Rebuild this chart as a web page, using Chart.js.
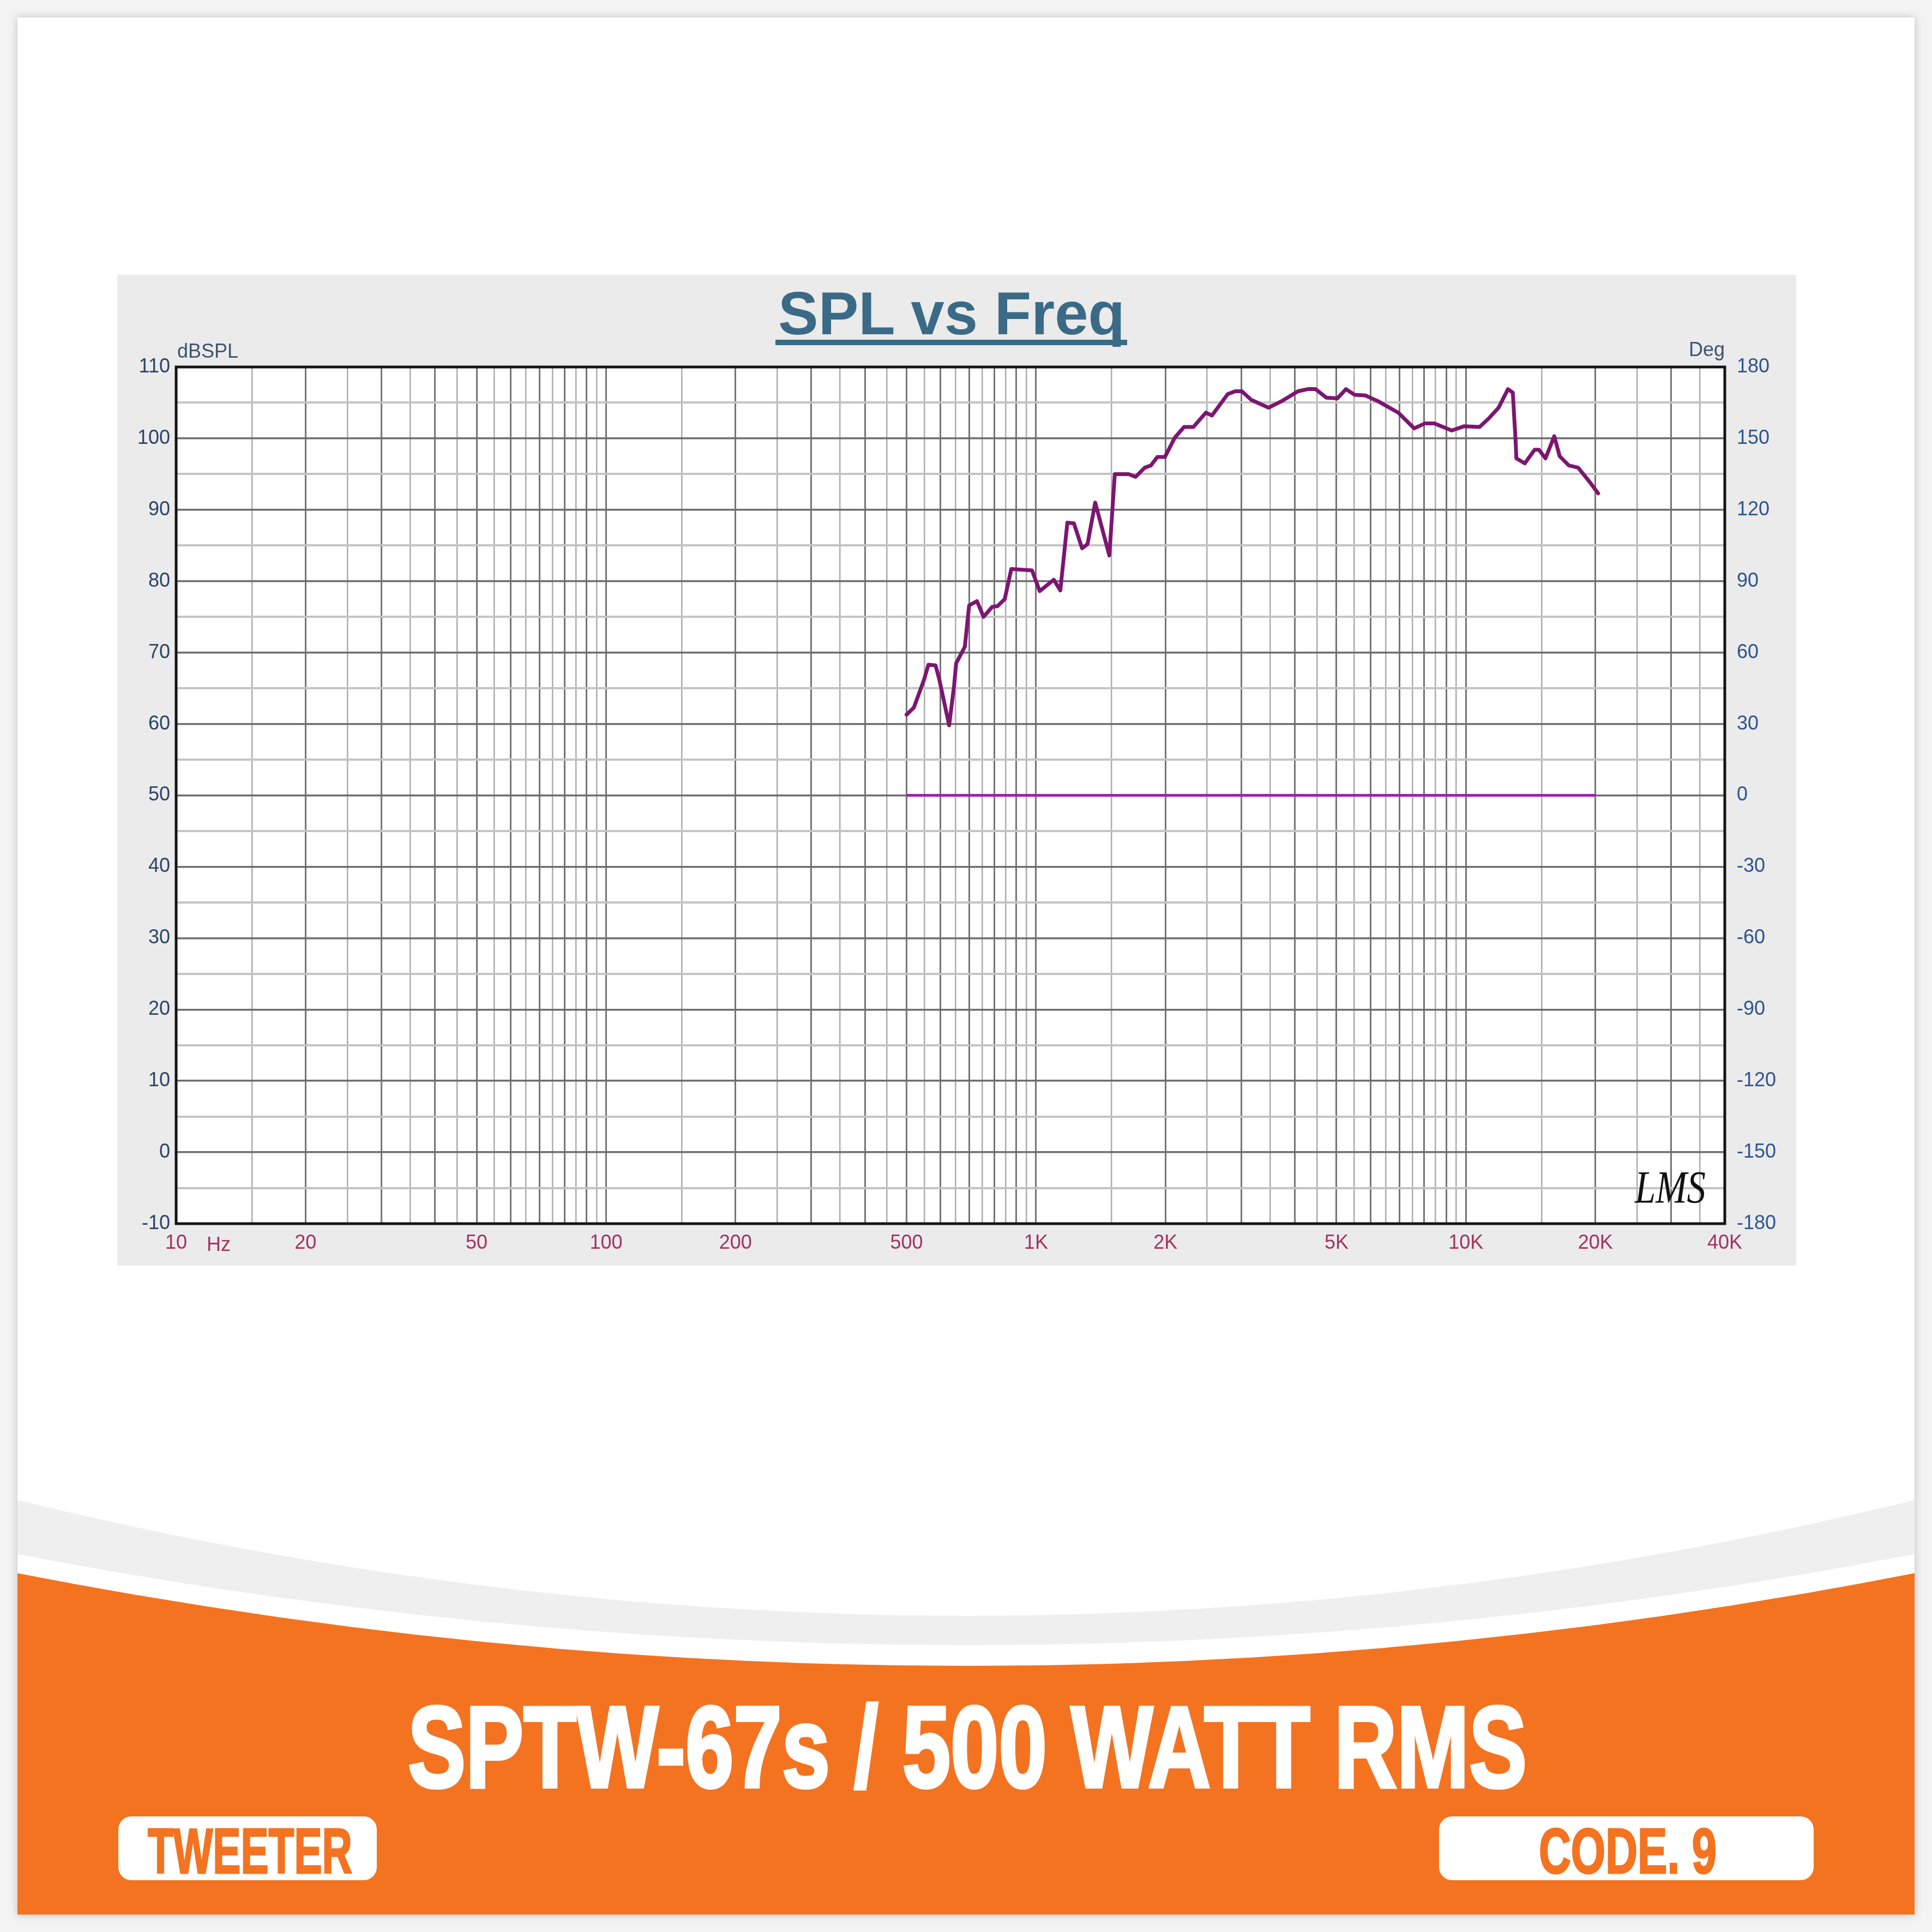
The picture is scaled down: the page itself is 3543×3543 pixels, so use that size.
<!DOCTYPE html>
<html><head><meta charset="utf-8">
<script src="https://cdn.jsdelivr.net/npm/chart.js@4.4.1/dist/chart.umd.min.js"></script>
<style>
html,body{margin:0;padding:0;width:3543px;height:3543px;background:#f3f3f3;overflow:hidden;}
#card{position:absolute;left:32px;top:32px;width:3479px;height:3479px;background:#fff;box-shadow:0 0 14px rgba(0,0,0,0.22);}
#shapes{position:absolute;left:0;top:0;width:3543px;height:3543px;}
#panel{position:absolute;left:215px;top:504px;width:3079px;height:1817px;background:#ebebeb;}
#panel canvas{display:block;}
#overlay{position:absolute;left:0;top:0;width:3543px;height:3543px;pointer-events:none;}
</style></head>
<body>
<div id="card"></div>
<svg id="shapes" width="3543" height="3543" viewBox="0 0 3543 3543">
  <path d="M32,2751 Q1772,3175 3511,2751 L3511,3511 L32,3511 Z" fill="#efefef"/>
  <path d="M32,2850 Q1772,3184 3511,2850 L3511,3511 L32,3511 Z" fill="#ffffff"/>
  <path d="M32,2885 Q1772,3225 3511,2885 L3511,3511 L32,3511 Z" fill="#f37321"/>
  <rect x="217" y="3331" width="474" height="117" rx="24" fill="#ffffff"/>
  <rect x="2639" y="3331" width="687" height="117" rx="24" fill="#ffffff"/>
</svg>
<div id="panel"><canvas id="c" width="3079" height="1817"></canvas></div>
<svg id="overlay" width="3543" height="3543" viewBox="0 0 3543 3543" font-family="'Liberation Sans', Arial, sans-serif">
  <text x="1427" y="613" font-size="112" font-weight="bold" fill="#3b6a86" textLength="636" lengthAdjust="spacingAndGlyphs">SPL vs Freq</text>
  <rect x="1422" y="623" width="645" height="10" fill="#3b6a86"/>
  <text x="325" y="656" font-size="36" fill="#3d5570">dBSPL</text>
  <text x="3163" y="653" font-size="36" fill="#3d5570" text-anchor="end">Deg</text>
  <text x="379" y="2294" font-size="36" fill="#a3335d">Hz</text>
  <text x="2998" y="2206" font-size="84" font-style="italic" font-family="'Liberation Serif', serif" fill="#111" textLength="130" lengthAdjust="spacingAndGlyphs">LMS</text>
  <text x="748" y="3277" font-size="212" font-weight="bold" fill="#ffffff" stroke="#ffffff" stroke-width="6" textLength="2052" lengthAdjust="spacingAndGlyphs">SPTW-67s / 500 WATT RMS</text>
  <text x="271" y="3435" font-size="117" font-weight="bold" fill="#f37321" stroke="#f37321" stroke-width="3" textLength="375" lengthAdjust="spacingAndGlyphs">TWEETER</text>
  <text x="2822" y="3435" font-size="117" font-weight="bold" fill="#f37321" stroke="#f37321" stroke-width="3" textLength="326" lengthAdjust="spacingAndGlyphs">CODE. 9</text>
</svg>
<script>
// ---- data ----
const freqHz = [500, 520, 549, 562, 584, 596, 628, 645, 652, 683, 699, 729, 755, 791, 814, 846, 876, 979, 1020, 1100, 1139, 1183, 1225, 1280, 1318, 1373, 1481, 1525, 1641, 1704, 1791, 1850, 1916, 1995, 2103, 2210, 2323, 2484, 2566, 2792, 2908, 3012, 3166, 3475, 3749, 4069, 4288, 4467, 4735, 5021, 5260, 5512, 5843, 6249, 6961, 7577, 8032, 8443, 9268, 9910, 10755, 11303, 11912, 12523, 12853, 13043, 13100, 13707, 14444, 14786, 15313, 16049, 16520, 17362, 18241, 19337, 20300];
const splDb = [61.3, 62.3, 66.2, 68.3, 68.2, 66.2, 59.8, 65.4, 68.5, 70.8, 76.6, 77.2, 75.0, 76.4, 76.5, 77.5, 81.7, 81.5, 78.6, 80.2, 78.7, 88.2, 88.1, 84.6, 85.2, 91.0, 83.6, 95.0, 95.0, 94.6, 95.9, 96.2, 97.4, 97.4, 100.1, 101.6, 101.6, 103.6, 103.2, 106.2, 106.6, 106.6, 105.4, 104.3, 105.3, 106.6, 106.9, 106.9, 105.7, 105.6, 106.9, 106.1, 106.0, 105.2, 103.6, 101.4, 102.1, 102.1, 101.1, 101.7, 101.6, 102.8, 104.3, 106.9, 106.4, 99.8, 97.2, 96.5, 98.4, 98.4, 97.2, 100.3, 97.5, 96.2, 95.9, 94.0, 92.3];
const phaseFreqHz = [500, 20000];
const phaseDeg = [0, 0];
const xLabelValues = [10, 20, 50, 100, 200, 500, 1000, 2000, 5000, 10000, 20000, 40000];
const xLabelTexts = ['10', '20', '50', '100', '200', '500', '1K', '2K', '5K', '10K', '20K', '40K'];
const gridSteps = [1, 1.5, 2, 2.5, 3, 3.5, 4, 4.5, 5, 5.5, 6, 6.5, 7, 7.5, 8, 8.5, 9, 9.5];
const gridDecades = [10, 100, 1000, 10000];
const yDbTicks = [-10, -5, 0, 5, 10, 15, 20, 25, 30, 35, 40, 45, 50, 55, 60, 65, 70, 75, 80, 85, 90, 95, 100, 105, 110];
const yDegTicks = [-180, -150, -120, -90, -60, -30, 0, 30, 60, 90, 120, 150, 180];

// ---- build ----
const xGrid = [];
gridDecades.forEach(d => gridSteps.forEach(s => { const v = Math.round(d * s); if (v <= 40000) xGrid.push(v); }));
xGrid.push(40000);
const uniq = Array.from(new Set(xGrid)).sort((a,b)=>a-b);

function isMajorX(v){ const d = Math.pow(10, Math.floor(Math.log10(v) + 1e-9)); const m = v / d; return Math.abs(m - Math.round(m)) < 1e-6; }

const FONT = {family: "'Liberation Sans', Arial, sans-serif", size: 36};

const plotBg = {
  id: 'plotBg',
  beforeDraw(chart){ const {ctx, chartArea:a} = chart; ctx.save(); ctx.fillStyle = '#ffffff'; ctx.fillRect(a.left, a.top, a.right-a.left, a.bottom-a.top); ctx.restore(); },
  beforeDatasetsDraw(chart){ const {ctx, chartArea:a} = chart; ctx.save(); ctx.strokeStyle = '#141414'; ctx.lineWidth = 5; ctx.strokeRect(a.left, a.top, a.right-a.left, a.bottom-a.top); ctx.restore(); }
};

new Chart(document.getElementById('c'), {
  type: 'line',
  data: {
    datasets: [
      { label: 'Phase', data: phaseFreqHz.map((f,i)=>({x:f, y:phaseDeg[i]})), yAxisID: 'y2', borderColor: '#9c22ae', borderWidth: 5, pointRadius: 0, tension: 0 },
      { label: 'SPL', data: freqHz.map((f,i)=>({x:f, y:splDb[i]})), yAxisID: 'y', borderColor: '#7d1670', borderWidth: 7, pointRadius: 0, tension: 0, borderJoinStyle: 'round', borderCapStyle: 'round' }
    ]
  },
  options: {
    responsive: false, animation: false, devicePixelRatio: 1,
    layout: { padding: { top: 169, left: 0, right: 0, bottom: 0 } },
    plugins: { legend: {display:false}, title: {display:false}, tooltip: {enabled:false} },
    scales: {
      x: {
        type: 'logarithmic', position: 'bottom', min: 10, max: 40000,
        afterBuildTicks: s => { s.ticks = uniq.map(v => ({value: v})); },
        afterFit: s => { s.height = 77; },
        border: {display: false},
        grid: { drawTicks: false,
          color: c => (c.tick && isMajorX(c.tick.value)) ? '#757575' : '#ababab',
          lineWidth: c => (c.tick && isMajorX(c.tick.value)) ? 3 : 2.5 },
        ticks: { autoSkip: false, maxRotation: 0, minRotation: 0, padding: 14, color: '#a3335d', font: FONT,
          callback: (v) => { const i = xLabelValues.indexOf(Math.round(v)); return i >= 0 ? xLabelTexts[i] : ''; } }
      },
      y: {
        position: 'left', min: -10, max: 110,
        afterBuildTicks: s => { s.ticks = yDbTicks.map(v => ({value: v})); },
        afterFit: s => { s.width = 108; },
        border: {display: false},
        grid: { drawTicks: false,
          color: c => (c.tick && c.tick.value % 10 === 0) ? '#6e6e6e' : '#c4c4c4',
          lineWidth: c => (c.tick && c.tick.value % 10 === 0) ? 3.5 : 4 },
        ticks: { autoSkip: false, padding: 11, color: '#2c4568', font: FONT,
          callback: v => (v % 10 === 0) ? String(v) : '' }
      },
      y2: {
        position: 'right', min: -180, max: 180,
        afterBuildTicks: s => { s.ticks = yDegTicks.map(v => ({value: v})); },
        afterFit: s => { s.width = 131; },
        border: {display: false},
        grid: { display: false, drawOnChartArea: false },
        ticks: { autoSkip: false, padding: 14, color: '#2e5591', font: FONT, callback: v => String(v) }
      }
    }
  },
  plugins: [plotBg]
});
</script>
</body></html>
